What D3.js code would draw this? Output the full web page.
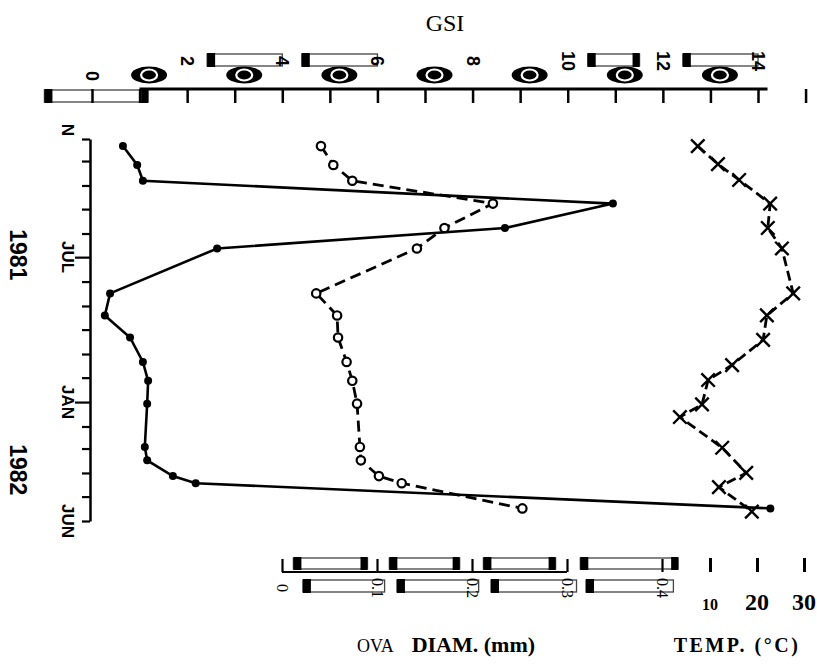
<!DOCTYPE html>
<html>
<head>
<meta charset="utf-8">
<script src="https://cdn.jsdelivr.net/npm/d3@7"></script>
<style>
  body { margin: 0; background: #fff; }
  svg { display: block; }
</style>
</head>
<body>
<svg id="chart"></svg>
<script>
// sampling dates shared by GSI and ova diameter
const sampleDates = ["1981-02-10", "1981-03-06", "1981-03-26", "1981-04-24", "1981-05-25", "1981-06-20",
    "1981-08-16", "1981-09-13", "1981-10-11", "1981-11-11", "1981-12-05", "1982-01-03",
    "1982-02-27", "1982-03-16", "1982-04-05", "1982-04-14", "1982-05-16"];
const gsi = [0.65, 0.95, 1.07, 10.95, 8.68, 2.63, 0.38, 0.27, 0.80, 1.07, 1.18, 1.16, 1.11, 1.16, 1.70, 2.18, 14.26];
const ovaDiam = [0.041, 0.054, 0.074, 0.222, 0.171, 0.142, 0.036, 0.058, 0.059, 0.068, 0.074, 0.079,
    0.082, 0.083, 0.102, 0.126, 0.253];

// temperature was read on slightly different days
const tempDates = ["1981-02-10", "1981-03-05", "1981-03-25", "1981-04-24", "1981-05-25", "1981-06-20",
    "1981-08-16", "1981-09-13", "1981-10-14", "1981-11-15", "1981-12-04", "1982-01-04",
    "1982-01-20", "1982-02-28", "1982-04-01", "1982-04-19", "1982-05-20"];
const temp = [7.4, 11.7, 16.2, 22.8, 22.3, 25.3, 27.7, 22.1, 21.3, 14.7, 9.6, 8.3, 3.6, 12.6, 17.7, 11.9, 18.9];

// tick labels
const gsiTicks = [0, 2, 4, 6, 8, 10, 12, 14];
const ovaTicks = [0, 0.1, 0.2, 0.3, 0.4];
const tempTicks = [10, 20, 30];
const monthLabels = [["1981-07-01", "JUL"], ["1982-01-01", "JAN"], ["1982-06-01", "JUN"]];
const yearLabels = [["1981-06-28", "1981"], ["1982-03-28", "1982"]];

const width = 817, height = 664;
const parse = d3.timeParse("%Y-%m-%d");

const svg = d3.select("#chart")
    .attr("width", width)
    .attr("height", height)
    .attr("viewBox", [0, 0, width, height]);

const y = d3.scaleTime()
    .domain([new Date(1981, 1, 1), new Date(1982, 5, 1)])
    .range([139, 521]);
const xGsi = d3.scaleLinear().domain([0, 14]).range([92, 758]);
const xOva = d3.scaleLinear().domain([0, 0.4]).range([282, 662]);
const xTemp = d3.scaleLinear().domain([0, 30]).range([663, 804]);

const sans = "'Liberation Sans', Arial, sans-serif";
const serif = "'Liberation Serif', 'Times New Roman', serif";

// little blank boxes the scan left where characters were lost
function tofu(g, x0, x1, boxTop, h, ends) {
    g.append("rect").attr("x", x0).attr("y", boxTop).attr("width", x1 - x0).attr("height", h)
        .attr("fill", "#fff").attr("stroke", "#444").attr("stroke-width", 1.3);
    if (ends[0]) g.append("rect").attr("x", x0).attr("y", boxTop - 1).attr("width", 8).attr("height", h + 2).attr("fill", "#000");
    if (ends[1]) g.append("rect").attr("x", x1 - 7).attr("y", boxTop - 1).attr("width", 7).attr("height", h + 2).attr("fill", "#000");
}

// ---- time axis (vertical) ----
const yAxis = svg.append("g")
    .attr("transform", "translate(90,0)")
    .call(d3.axisLeft(y).ticks(d3.timeMonth.every(1)).tickSize(8).tickSizeOuter(0).tickFormat(""));
yAxis.select(".domain").attr("stroke-width", 2.5);
yAxis.selectAll(".tick line").attr("stroke-width", 2.2)
    .attr("x2", d => (d.getMonth() === 6 || d.getMonth() === 0) ? -15 : -8);

svg.append("text")
    .attr("transform", "translate(67,130) rotate(90)")
    .attr("text-anchor", "middle").attr("dominant-baseline", "central")
    .attr("font-family", sans).attr("font-weight", "bold").attr("font-size", 17)
    .text("N");

svg.selectAll(".month")
    .data(monthLabels)
    .join("text")
    .attr("transform", d => `translate(67,${y(parse(d[0]))}) rotate(90)`)
    .attr("text-anchor", "middle").attr("dominant-baseline", "central")
    .attr("font-family", sans).attr("font-weight", "bold").attr("font-size", 17)
    .text(d => d[1]);

svg.selectAll(".year")
    .data(yearLabels)
    .join("text")
    .attr("transform", d => `translate(18,${y(parse(d[0]))}) rotate(90)`)
    .attr("text-anchor", "middle").attr("dominant-baseline", "central")
    .attr("font-family", sans).attr("font-weight", "bold").attr("font-size", 23)
    .text(d => d[1]);

// ---- GSI axis (top) ----
svg.append("text")
    .attr("x", 445).attr("y", 31)
    .attr("text-anchor", "middle")
    .attr("font-family", serif).attr("font-size", 24)
    .text("GSI");

const topBoxes = svg.append("g");
tofu(topBoxes, xGsi(-1), xGsi(1.18), 90, 12, [true, true]);
tofu(topBoxes, xGsi(2.42), xGsi(4.0), 54, 12, [true, false]);
tofu(topBoxes, xGsi(4.41), xGsi(6.0), 54, 12, [true, false]);
tofu(topBoxes, xGsi(10.42), xGsi(11.51), 54, 12, [true, true]);
tofu(topBoxes, xGsi(12.42), xGsi(14.0), 54, 12, [true, false]);

const gAxis = svg.append("g")
    .attr("transform", "translate(0,89)")
    .call(d3.axisBottom(xGsi).tickValues(d3.range(0, 16)).tickSize(14).tickSizeOuter(0).tickFormat(""));
gAxis.select(".domain").attr("d", `M${xGsi(1)},0H${xGsi(14.2)}`).attr("stroke-width", 3);
gAxis.selectAll(".tick line").attr("stroke-width", 2.5);

svg.selectAll(".gsi-label")
    .data(gsiTicks)
    .join("text")
    .attr("transform", d => `translate(${xGsi(d)},${d === 0 ? 76 : 61}) rotate(90)`)
    .attr("text-anchor", "middle").attr("dominant-baseline", "central")
    .attr("font-family", sans).attr("font-weight", "bold").attr("font-size", 18)
    .text(d => d);

const ovals = svg.selectAll(".oval")
    .data(d3.range(1.2, 14, 2))
    .join("g")
    .attr("transform", d => `translate(${xGsi(d)},75)`);
ovals.append("ellipse").attr("rx", 18).attr("ry", 8.5).attr("fill", "#000");
ovals.append("ellipse").attr("rx", 8).attr("ry", 5.5).attr("fill", "none")
    .attr("stroke", "#fff").attr("stroke-width", 2.2);

// ---- ova diameter & temperature axes (bottom) ----
const bottomBoxes = svg.append("g");
[[0.012, 0.09], [0.113, 0.187], [0.212, 0.288], [0.314, 0.417]]
    .forEach(b => tofu(bottomBoxes, xOva(b[0]), xOva(b[1]), 558, 11, [true, true]));
[[0.022, 0.108], [0.121, 0.207], [0.22, 0.31], [0.32, 0.412]]
    .forEach(b => tofu(bottomBoxes, xOva(b[0]), xOva(b[1]), 580, 12, [true, false]));

const oAxis = svg.append("g")
    .attr("transform", "translate(0,572)")
    .call(d3.axisTop(xOva).tickValues(ovaTicks).tickSize(13).tickSizeOuter(0).tickFormat(""));
oAxis.select(".domain").attr("d", `M${xOva(0)},0H${xOva(0.3)}`).attr("stroke-width", 2.2);
oAxis.selectAll(".tick line").attr("stroke-width", 2.2);

svg.selectAll(".ova-label")
    .data(ovaTicks)
    .join("text")
    .attr("transform", d => `translate(${xOva(d)},588) rotate(90)`)
    .attr("text-anchor", "middle").attr("dominant-baseline", "central")
    .attr("font-family", serif).attr("font-size", 16)
    .text(d => d);

const tAxis = svg.append("g")
    .attr("transform", "translate(0,572)")
    .call(d3.axisTop(xTemp).tickValues(tempTicks).tickSize(14).tickSizeOuter(0).tickFormat(""));
tAxis.select(".domain").remove();
tAxis.selectAll(".tick line").attr("stroke-width", 3);

svg.selectAll(".temp-label")
    .data(tempTicks)
    .join("text")
    .attr("x", d => xTemp(d)).attr("y", 610)
    .attr("text-anchor", "middle")
    .attr("font-family", serif).attr("font-weight", "bold").attr("font-size", d => d === 10 ? 16 : 24)
    .text(d => d);

svg.append("text")
    .attr("x", 446).attr("y", 652)
    .attr("text-anchor", "middle")
    .attr("font-family", serif).attr("font-size", 22)
    .html('<tspan font-size="18">OVA</tspan><tspan font-weight="bold" dx="18">DIAM. (mm)</tspan>');

svg.append("text")
    .attr("x", 737).attr("y", 652)
    .attr("text-anchor", "middle")
    .attr("font-family", serif).attr("font-size", 20).attr("font-weight", "bold")
    .attr("letter-spacing", 2.5)
    .text("TEMP.  (°C)");

// ---- series ----
const gsiData = sampleDates.map((d, i) => ({date: parse(d), v: gsi[i]}));
const ovaData = sampleDates.map((d, i) => ({date: parse(d), v: ovaDiam[i]}));
const tempData = tempDates.map((d, i) => ({date: parse(d), v: temp[i]}));

function lineFor(x) {
    return d3.line().x(d => x(d.v)).y(d => y(d.date));
}

svg.append("path")
    .datum(tempData)
    .attr("d", lineFor(xTemp))
    .attr("fill", "none").attr("stroke", "#000").attr("stroke-width", 2.8)
    .attr("stroke-dasharray", "10,5");

svg.append("path")
    .datum(ovaData)
    .attr("d", lineFor(xOva))
    .attr("fill", "none").attr("stroke", "#000").attr("stroke-width", 2.8)
    .attr("stroke-dasharray", "11,6");

svg.append("path")
    .datum(gsiData)
    .attr("d", lineFor(xGsi))
    .attr("fill", "none").attr("stroke", "#000").attr("stroke-width", 2.6);

svg.selectAll(".gsi-dot")
    .data(gsiData)
    .join("circle")
    .attr("cx", d => xGsi(d.v)).attr("cy", d => y(d.date))
    .attr("r", 4).attr("fill", "#000");

svg.selectAll(".ova-dot")
    .data(ovaData)
    .join("circle")
    .attr("cx", d => xOva(d.v)).attr("cy", d => y(d.date))
    .attr("r", 4.2).attr("fill", "#fff").attr("stroke", "#000").attr("stroke-width", 2.2);

const cross = d3.symbol().type(d3.symbolX).size(120);
svg.selectAll(".temp-mark")
    .data(tempData)
    .join("path")
    .attr("transform", d => `translate(${xTemp(d.v)},${y(d.date)})`)
    .attr("d", cross)
    .attr("fill", "#000").attr("stroke", "#000").attr("stroke-width", 2.4)
    .attr("stroke-linejoin", "round");
</script>
</body>
</html>
